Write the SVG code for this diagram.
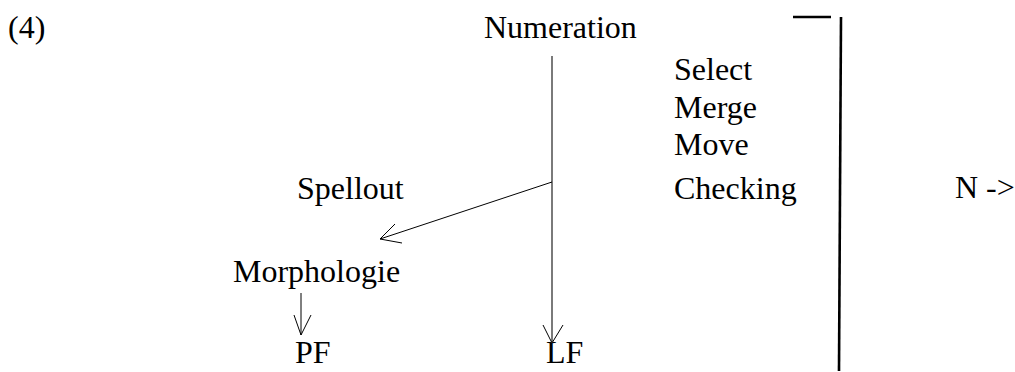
<svg xmlns="http://www.w3.org/2000/svg" width="1015" height="372" viewBox="0 0 1015 372">
  <style>
    text { font-family: "Liberation Serif", "Times New Roman", serif; font-size: 32px; fill: #000; }
    .thin { stroke: #000; stroke-width: 1; fill: none; }
    .shaft { stroke: #7a7a7a; stroke-width: 2; fill: none; }
    .bar { stroke: #000; stroke-width: 2.6; fill: none; }
  </style>
  <rect width="1015" height="372" fill="#fff"/>

  <g id="label-number"><text x="8" y="38">(4)</text></g>
  <g id="numeration"><text x="484" y="38">Numeration</text></g>
  <g id="operations">
    <text x="674" y="80">Select</text>
    <text x="674" y="118">Merge</text>
    <text x="674" y="155">Move</text>
    <text x="674" y="199">Checking</text>
  </g>
  <g id="spellout"><text x="297" y="199">Spellout</text></g>
  <g id="morphologie"><text x="233" y="282">Morphologie</text></g>
  <g id="pf"><text x="295" y="363">PF</text></g>
  <g id="lf"><text x="546" y="363">LF</text></g>
  <g id="n-arrow"><text x="955" y="198">N -&gt;</text></g>

  <g id="connectors">
    <!-- Numeration down to LF -->
    <line class="shaft" x1="552" y1="56" x2="552" y2="343"/>
    <polyline class="thin" points="543,325 552,343 563,325"/>
    <!-- branch to Spellout -->
    <line class="thin" x1="552" y1="182" x2="380" y2="239"/>
    <polyline class="thin" points="395,224 380,239 402,243"/>
    <!-- Morphologie down to PF -->
    <line class="thin" x1="301" y1="293" x2="301" y2="335"/>
    <polyline class="thin" points="294,315 301,335 311,315"/>
  </g>

  <g id="bracket">
    <line class="bar" x1="793" y1="17" x2="831" y2="17"/>
    <line class="bar" x1="841" y1="17" x2="839" y2="371"/>
  </g>
</svg>
